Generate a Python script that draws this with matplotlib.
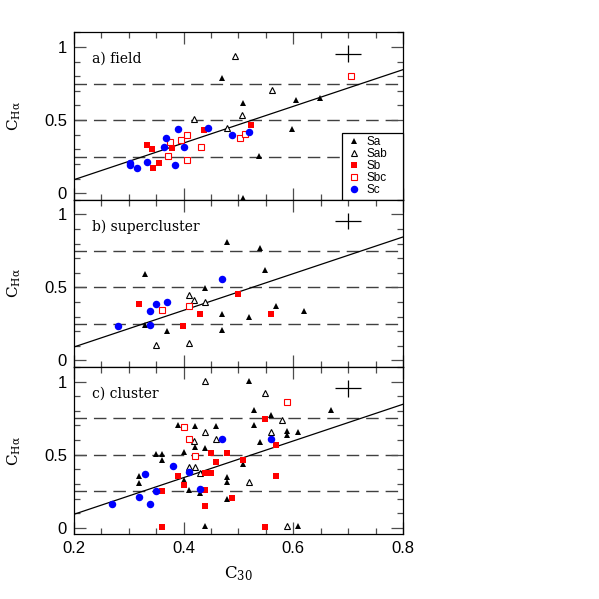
import matplotlib
matplotlib.use("Agg")
import matplotlib.pyplot as plt
from matplotlib.ticker import MultipleLocator, FormatStrFormatter

# ---- data (x = C30, y = C_Halpha) ----
# a) field
field_sa_x = [0.470, 0.508, 0.605, 0.649, 0.597, 0.537, 0.508]
field_sa_y = [0.788, 0.619, 0.640, 0.653, 0.441, 0.254, -0.034]
field_sab_x = [0.493, 0.561, 0.418, 0.506, 0.479]
field_sab_y = [0.936, 0.703, 0.509, 0.532, 0.445]
field_sb_x = [0.333, 0.342, 0.344, 0.355, 0.378, 0.437, 0.523]
field_sb_y = [0.327, 0.299, 0.174, 0.208, 0.311, 0.434, 0.468]
field_sbc_x = [0.705, 0.406, 0.396, 0.375, 0.372, 0.406, 0.432, 0.502, 0.512]
field_sbc_y = [0.799, 0.400, 0.366, 0.349, 0.254, 0.229, 0.315, 0.377, 0.402]
field_sc_x = [0.303, 0.302, 0.315, 0.333, 0.367, 0.365, 0.384, 0.390, 0.401, 0.444, 0.489, 0.519]
field_sc_y = [0.206, 0.190, 0.174, 0.215, 0.377, 0.315, 0.194, 0.436, 0.318, 0.445, 0.397, 0.420]

# b) supercluster
scl_sa_x = [0.479, 0.539, 0.549, 0.330, 0.439, 0.569, 0.619, 0.470, 0.519, 0.330, 0.370, 0.470]
scl_sa_y = [0.808, 0.770, 0.619, 0.589, 0.498, 0.370, 0.340, 0.320, 0.299, 0.240, 0.201, 0.210]
scl_sab_x = [0.409, 0.419, 0.439, 0.350, 0.410]
scl_sab_y = [0.450, 0.411, 0.402, 0.103, 0.119]
scl_sb_x = [0.319, 0.499, 0.429, 0.399, 0.559]
scl_sb_y = [0.386, 0.455, 0.315, 0.235, 0.315]
scl_sbc_x = [0.360, 0.410]
scl_sbc_y = [0.345, 0.372]
scl_sc_x = [0.280, 0.339, 0.350, 0.370, 0.339, 0.469]
scl_sc_y = [0.235, 0.336, 0.386, 0.397, 0.245, 0.555]

# c) cluster
cl_sa_x = [0.519, 0.529, 0.559, 0.669, 0.390, 0.420, 0.459, 0.529, 0.589, 0.589,
           0.609, 0.539, 0.420, 0.439, 0.400, 0.350, 0.360, 0.360, 0.509, 0.319,
           0.319, 0.479, 0.479, 0.400, 0.410, 0.430, 0.479, 0.439, 0.609]
cl_sa_y = [1.005, 0.804, 0.774, 0.804, 0.703, 0.694, 0.694, 0.703, 0.664, 0.635,
           0.655, 0.587, 0.555, 0.544, 0.516, 0.505, 0.505, 0.464, 0.434, 0.354,
           0.306, 0.345, 0.315, 0.327, 0.256, 0.236, 0.197, 0.010, 0.010]
cl_sab_x = [0.439, 0.549, 0.579, 0.439, 0.559, 0.419, 0.459, 0.410, 0.420, 0.430, 0.519, 0.589]
cl_sab_y = [1.005, 0.925, 0.735, 0.655, 0.655, 0.596, 0.605, 0.416, 0.416, 0.375, 0.315, 0.010]
cl_sb_x = [0.549, 0.569, 0.450, 0.479, 0.459, 0.509, 0.390, 0.439, 0.450, 0.569,
           0.400, 0.360, 0.439, 0.489, 0.439, 0.360, 0.549]
cl_sb_y = [0.742, 0.566, 0.509, 0.509, 0.452, 0.461, 0.352, 0.372, 0.372, 0.352,
           0.290, 0.249, 0.260, 0.201, 0.151, 0.003, 0.003]
cl_sbc_x = [0.589, 0.400, 0.410, 0.420]
cl_sbc_y = [0.859, 0.690, 0.608, 0.491]
cl_sc_x = [0.469, 0.559, 0.380, 0.330, 0.410, 0.350, 0.430, 0.319, 0.339, 0.270]
cl_sc_y = [0.610, 0.610, 0.420, 0.370, 0.382, 0.251, 0.263, 0.212, 0.162, 0.162]

panel_labels = ["a) field", "b) supercluster", "c) cluster"]
legend_labels = ["Sa", "Sab", "Sb", "Sbc", "Sc"]

# linear relation drawn in every panel
FIT_SLOPE = 1.255
FIT_INTERCEPT = -0.159
# quartile lines
hlines = [0.25, 0.5, 0.75]
# typical error bar
ERR_X, ERR_Y = 0.70, 0.955
ERR_DX, ERR_DY = 0.024, 0.057

panels = [
    (field_sa_x, field_sa_y, field_sab_x, field_sab_y, field_sb_x, field_sb_y,
     field_sbc_x, field_sbc_y, field_sc_x, field_sc_y),
    (scl_sa_x, scl_sa_y, scl_sab_x, scl_sab_y, scl_sb_x, scl_sb_y,
     scl_sbc_x, scl_sbc_y, scl_sc_x, scl_sc_y),
    (cl_sa_x, cl_sa_y, cl_sab_x, cl_sab_y, cl_sb_x, cl_sb_y,
     cl_sbc_x, cl_sbc_y, cl_sc_x, cl_sc_y),
]

plt.rcParams["font.family"] = ["Liberation Sans", "DejaVu Sans"]
plt.rcParams["mathtext.default"] = "regular"

fig = plt.figure(figsize=(5.99, 5.99), dpi=100)

left, width = 74 / 599, 329 / 599
bottom0, height = 1 - 534.3 / 599, 167.3 / 599
leg_w = 61 / 329  # legend box width as fraction of the axes

for i, data in enumerate(panels):
    sa_x, sa_y, sab_x, sab_y, sb_x, sb_y, sbc_x, sbc_y, sc_x, sc_y = data
    ax = fig.add_axes([left, bottom0 + (2 - i) * height, width, height])

    for h in hlines:
        ax.axhline(h, color="0.25", lw=1.0, linestyle=(0, (9, 5)), zorder=1)
    ax.axline((0, FIT_INTERCEPT), slope=FIT_SLOPE, color="black", lw=0.9, zorder=2)
    ax.errorbar([ERR_X], [ERR_Y], xerr=[ERR_DX], yerr=[ERR_DY], fmt="none",
                ecolor="black", elinewidth=0.9, capsize=0, zorder=2)

    ax.plot(sa_x, sa_y, "^", color="black", ms=4.8, mew=0, ls="none", label=legend_labels[0], zorder=3)
    ax.plot(sab_x, sab_y, "^", mfc="white", mec="black", ms=4.6, mew=0.8, ls="none", label=legend_labels[1], zorder=3)
    ax.plot(sb_x, sb_y, "s", color="#ff0000", ms=4.4, mew=0, ls="none", label=legend_labels[2], zorder=3)
    ax.plot(sbc_x, sbc_y, "s", mfc="white", mec="#ff0000", ms=4.0, mew=0.8, ls="none", label=legend_labels[3], zorder=3)
    ax.plot(sc_x, sc_y, "o", color="#0000ff", ms=5.4, mew=0, ls="none", label=legend_labels[4], zorder=3)

    ax.set_xlim(0.2, 0.8)
    ax.set_ylim(-0.045, 1.10)
    ax.xaxis.set_major_locator(MultipleLocator(0.2))
    ax.xaxis.set_minor_locator(MultipleLocator(0.05))
    ax.yaxis.set_major_locator(MultipleLocator(0.5))
    ax.yaxis.set_minor_locator(MultipleLocator(0.1))
    ax.yaxis.set_major_formatter(FormatStrFormatter("%g"))
    ax.tick_params(which="both", direction="in", top=True, right=True, color="0.3", width=0.9,
                   labelsize=12)
    ax.tick_params(which="major", length=8.5, pad=5)
    ax.tick_params(which="minor", length=4.5)
    for sp in ax.spines.values():
        sp.set_linewidth(0.9)

    if i < 2:
        ax.tick_params(labelbottom=False)
    else:
        ax.xaxis.set_major_formatter(FormatStrFormatter("%.1f"))
        ax.set_xlabel("C$_{30}$", fontsize=12, family="DejaVu Serif", labelpad=6)

    ax.set_ylabel(r"C$_{H\alpha}$", fontsize=11, family="DejaVu Serif", labelpad=15)
    ax.text(0.054, 0.84, panel_labels[i], transform=ax.transAxes, family="DejaVu Serif",
            fontsize=10, va="center", ha="left")

    if i == 0:
        leg = ax.legend(loc="lower right", bbox_to_anchor=(1 - leg_w, 0, leg_w, 1),
                        mode="expand", borderaxespad=0, numpoints=1, fontsize=8.5,
                        handlelength=1.5, handletextpad=0.3, labelspacing=0.0,
                        borderpad=0.3, fancybox=False, framealpha=1, edgecolor="black")
        leg.get_frame().set_linewidth(0.9)

fig.savefig("out.png", dpi=100)
